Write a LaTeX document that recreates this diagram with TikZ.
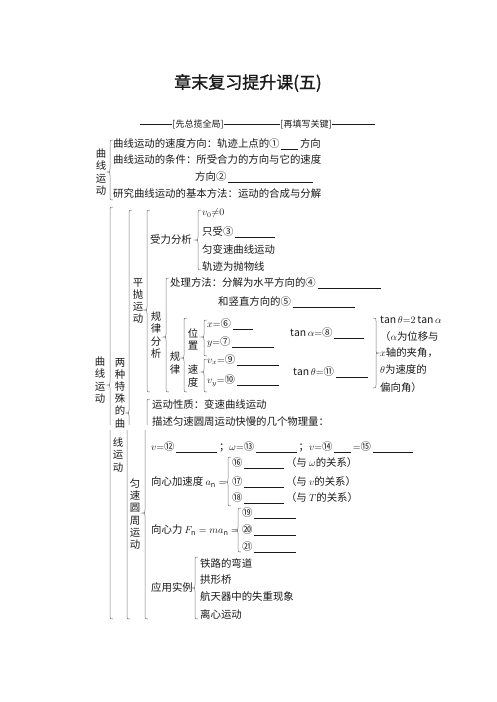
\documentclass[tikz,border=0pt]{standalone}
\usepackage{fontspec}
\setmainfont[AutoFakeBold=1.2]{Noto Sans CJK SC}
\usetikzlibrary{positioning}
\definecolor{linegray}{RGB}{120,120,120}
\definecolor{ink}{RGB}{25,25,25}
\newcommand{\fz}{\fontsize{10.4}{12.2}\selectfont}
\newcommand{\blank}[1]{\,\rule[-2pt]{#1pt}{0.5pt}\,}
\tikzstyle{txt}=[anchor=west, inner sep=0pt, text=ink, font=\fz]
\tikzstyle{vert}=[inner sep=0pt, align=center, text=ink, font=\fz]
\tikzstyle{brc}=[draw=linegray, line width=0.5pt]
% left brace: x, top, tip, bottom
\newcommand{\lbr}[4]{\draw[brc] (#1+3,#2) .. controls (#1,#2) .. (#1,#2+3)
  -- (#1,#3-3) .. controls (#1,#3) .. (#1-3,#3) .. controls (#1,#3) .. (#1,#3+3)
  -- (#1,#4-3) .. controls (#1,#4) .. (#1+3,#4);}

\begin{document}
\begin{tikzpicture}[x=1pt, y=-1pt]
\fill[white] (0,0) rectangle (496,702);
\useasboundingbox (0,0) rectangle (496,702);

% title
\draw (248,83) node [inner sep=0pt, text=ink, font=\fontsize{17}{20}\selectfont\bfseries] (title) {章末复习提升课(五)};
\draw (198,124) node [inner sep=0pt, text=ink, font=\fontsize{9}{11}\selectfont] (hd1) {[先总揽全局]};
\draw (306,124) node [inner sep=0pt, text=ink, font=\fontsize{9}{11}\selectfont] (hd2) {[再填写关键]};
\coordinate (hl) at (140,124);
\coordinate (hr) at (375,124);
\draw[ink, line width=0.6pt] (hl) -- (hd1.west);
\draw[ink, line width=0.6pt] (hd1.east) -- (hd2.west);
\draw[ink, line width=0.6pt] (hd2.east) -- (hr);

% part 1
\draw (101,172) node [vert] (c1) {曲\\线\\运\\动};
\lbr{110}{140}{172}{200}
\draw (113,144) node [txt] (s1) {曲线运动的速度方向：轨迹上点的①\blank{17}方向};
\draw (113,160) node [txt] (s2) {曲线运动的条件：所受合力的方向与它的速度};
\draw (195,177) node [txt] (s3) {方向②\blank{85}};
\draw (113,194) node [txt] (s4) {研究曲线运动的基本方法：运动的合成与分解};

% part 2
\draw (100,380) node [vert] (c2) {曲\\线\\运\\动};
\draw[brc] (113,207) .. controls (110,207) .. (110,210) -- (110,382)
  .. controls (110,385) .. (107,385) .. controls (110,385) .. (110,388) -- (110,425);
\draw (120,393) node [vert] (t1) {两\\种\\特\\殊\\的\\曲};
\draw[brc] (132,210) .. controls (129,210) .. (129,213) -- (129,410)
  .. controls (129,413) .. (126,413) .. controls (129,413) .. (129,416) -- (129,425);
\draw (138,301) node [vert] (p1) {平\\抛\\运\\动};
\lbr{147}{210}{310}{392}
\draw (150,240) node [txt] (f1) {受力分析};
\lbr{198}{210}{240}{270}
\draw (202,213) node [txt] (f2) {$v_0{\neq}0$};
\draw (202,232) node [txt] (f3) {只受③\blank{40}};
\draw (202,250) node [txt] (f4) {匀变速曲线运动};
\draw (202,267) node [txt] (f5) {轨迹为抛物线};
\draw (156,335) node [vert] (g1) {规\\律\\分\\析};
\lbr{166}{278}{337}{392}
\draw (170,283) node [txt] (h1) {处理方法：分解为水平方向的④\blank{63}};
\draw (218,302) node [txt] (h2) {和竖直方向的⑤\blank{62}};
\draw (175,363) node [vert] (r1) {规\\律};
\lbr{184}{318}{358}{392}
\draw (193,339) node [vert] (w1) {位\\置};
\lbr{204}{320}{337}{356}
\draw (207,324) node [txt] (x1) {$x{=}$⑥\blank{20}};
\draw (207,342) node [txt] (y1) {$y{=}$⑦\blank{42}};
\draw (193,376) node [vert] (w2) {速\\度};
\lbr{204}{359}{372}{392}
\draw (207,360) node [txt] (vx) {$v_x{=}$⑨\blank{42}};
\draw (207,381) node [txt] (vy) {$v_y{=}$⑩\blank{42}};
\draw (290,333) node [txt] (ta) {$\tan\alpha{=}$⑧\blank{30}};
\draw (293,372) node [txt] (tt) {$\tan\theta{=}$⑪\blank{32}};
\draw[brc] (373,318) .. controls (376,318) .. (376,321) -- (376,350)
  .. controls (376,353) .. (379,353) .. controls (376,353) .. (376,356) -- (376,385)
  .. controls (376,388) .. (373,388);
\draw (380,320) node [txt] (n1) {$\tan\theta{=}2\tan\alpha$};
\draw (380,337) node [txt] (n2) {（$\alpha$为位移与};
\draw (380,353) node [txt] (n3) {$x$轴的夹角，};
\draw (380,370) node [txt] (n4) {$\theta$为速度的};
\draw (380,388) node [txt] (n5) {偏向角）};
\draw[brc] (150,399) .. controls (147,399) .. (147,402) -- (147,425);
\draw (152,405) node [txt] (q1) {运动性质：变速曲线运动};
\draw (152,422) node [txt] (q2) {描述匀速圆周运动快慢的几个物理量：};

% part 3
\draw[brc] (110,430) -- (110,616) .. controls (110,619) .. (113,619);
\draw (118,455) node [vert] (t2) {线\\运\\动};
\draw[brc] (127,430) -- (127,616) .. controls (127,619) .. (130,619);
\draw (135,514) node [vert] (m1) {匀\\速\\圆\\周\\运\\动};
\draw[brc] (145,430) -- (145,510) .. controls (145,513) .. (142,513)
  .. controls (145,513) .. (145,516) -- (145,616) .. controls (145,619) .. (148,619);
\draw (151,447) node [txt] (o1) {$v{=}$⑫\blank{41}；$\omega{=}$⑬\blank{41}；$v{=}$⑭\blank{17}$=$⑮\blank{40}};
\draw (151,482) node [txt] (a1) {向心加速度 $a_{\rm n}=$};
\lbr{228}{457}{482}{506}
\draw (232,463) node [txt] (a2) {⑯\blank{40}（与 $\omega$的关系）};
\draw (232,482) node [txt] (a3) {⑰\blank{40}（与 $v$的关系）};
\draw (232,498) node [txt] (a4) {⑱\blank{40}（与 $T$的关系）};
\draw (151,530) node [txt] (F1) {向心力 $F_{\rm n}=ma_{\rm n}=$};
\lbr{238}{508}{530}{552}
\draw (242,513) node [txt] (F2) {⑲\blank{42}};
\draw (242,530) node [txt] (F3) {⑳\blank{42}};
\draw (242,547) node [txt] (F4) {㉑\blank{42}};
\draw (151,588) node [txt] (u1) {应用实例};
\lbr{195}{557}{588}{619}
\draw (200,563) node [txt] (u2) {铁路的弯道};
\draw (200,580) node [txt] (u3) {拱形桥};
\draw (200,597) node [txt] (u4) {航天器中的失重现象};
\draw (200,615) node [txt] (u5) {离心运动};
\end{tikzpicture}
\end{document}
